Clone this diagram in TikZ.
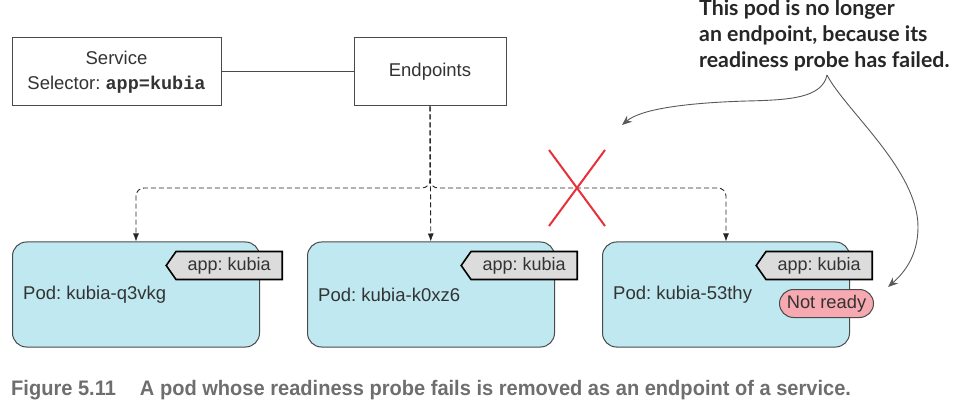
\documentclass[tikz,border=0pt]{standalone}
\usepackage{fontspec}
\setmainfont{Liberation Sans}
\setmonofont{Liberation Mono}
\newfontfamily\calloutfont{Lato}
\newfontfamily\captionfont[FakeStretch=0.955]{Liberation Sans}
\usetikzlibrary{arrows,arrows.meta,positioning,shapes,calc}
\definecolor{txt}{HTML}{333333}
\definecolor{boxline}{HTML}{4A4A4A}
\definecolor{podfill}{HTML}{BFE8F0}
\definecolor{tagfill}{HTML}{DCDCDC}
\definecolor{nrfill}{HTML}{F6A9B0}
\definecolor{crossred}{HTML}{E8303A}
\definecolor{capgray}{HTML}{6E6E6E}
\frenchspacing

\begin{document}
\begin{tikzpicture}[x=1pt,y=-1pt,
    every node/.style={text=txt},
    box/.style={draw=boxline,line width=1pt,fill=white,align=center,inner sep=0pt,
      font=\fontsize{18.5}{25}\selectfont},
    pod/.style={draw=boxline,line width=1pt,fill=podfill,rounded corners=14pt,
      minimum width=247pt,minimum height=105pt},
    podtext/.style={inner sep=0pt,anchor=west,font=\fontsize{18.5}{20}\selectfont},
    tag/.style={signal,signal to=west,signal pointer angle=110,draw=black,line width=1.6pt,
      fill=tagfill,inner xsep=5pt,inner ysep=0pt,minimum height=28pt,minimum width=116pt,
      anchor=east,font=\fontsize{18}{20}\selectfont},
    notready/.style={rounded rectangle,draw=boxline,line width=1pt,fill=nrfill,
      inner xsep=4pt,inner ysep=0pt,minimum height=28pt,minimum width=102pt,anchor=east,
      font=\fontsize{18.3}{20}\selectfont},
    feed/.style={draw=black!85,line width=0.9pt,dash pattern=on 5pt off 3pt,
      -{Latex[length=8pt,width=6pt]}},
    pointer/.style={draw=black!65,line width=0.9pt,-{Stealth[length=10pt,width=8pt]}},
    cross/.style={draw=crossred,line width=2pt},
    callout/.style={align=left,inner sep=0pt,text=black!85,
      font=\calloutfont\bfseries\fontsize{21.3}{26}\selectfont},
    caption/.style={inner sep=0pt,text=capgray,
      font=\captionfont\bfseries\fontsize{21}{22}\selectfont}]
  \useasboundingbox (0,0) rectangle (957,411);

  % service and endpoints
  \node[box,minimum width=209pt,minimum height=68pt] (svc) at (116.5,72)
    {Service\\Selector: \texttt{\bfseries app=kubia}};
  \node[box,minimum width=152pt,minimum height=68pt] (ep) at (430,72) {Endpoints};
  \draw[draw=boxline,line width=1pt] (svc) -- (ep);

  % pods
  \node[pod] (podA) at (136,294.5) {};
  \node[pod,right=47pt of podA] (podB) {};
  \node[pod,right=47pt of podB] (podC) {};
  \node[podtext] (nameA) at ($(podA.west)+(11,0)$) {Pod: kubia-q3vkg};
  \node[podtext] (nameB) at ($(podB.west)+(11,0)$) {Pod: kubia-k0xz6};
  \node[podtext] (nameC) at ($(podC.west)+(11,0)$) {Pod: kubia-53thy};
  \node[tag] (tagA) at ($(podA.north east)+(23,24)$) {app: kubia};
  \node[tag] (tagB) at ($(podB.north east)+(23,24)$) {app: kubia};
  \node[tag] (tagC) at ($(podC.north east)+(23,24)$) {app: kubia};
  \node[notready] (nr) at ($(podC.north east)+(24,62)$) {Not ready};

  % endpoint links
  \coordinate (bus) at (0,188);
  \draw[feed] (ep) -- (podB);
  \draw[feed,rounded corners=8pt] (ep.south) -- (ep.south |- bus) -- (podA.north |- bus) -- (podA.north);
  \draw[feed,rounded corners=8pt] (ep.south) -- (ep.south |- bus) -- (podC.north |- bus) -- (podC.north);

  \coordinate (cut) at (577,188);
  \draw[cross] ($(cut)+(-28,-38)$) -- ($(cut)+(28,38)$)
               ($(cut)+(28,-38)$) -- ($(cut)+(-28,38)$);

  % callout
  \node[callout,anchor=north west] (note) at (699,-1)
    {This pod is no longer\\an endpoint, because its\\readiness probe has failed.};
  \coordinate (fork) at (827,75);
  \coordinate (lost) at (622,125);
  \coordinate (ntip) at (888,287);
  \draw[pointer] (fork) .. controls (822,98) and (790,100) .. (747,101)
    .. controls (680,103) and (640,110) .. (lost);
  \draw[pointer] (fork) .. controls (845,110) and (918,170) .. (918,227)
    .. controls (918,255) and (905,272) .. (ntip);

  \node[caption,anchor=base west] (cap) at (11,395)
    {Figure 5.11\hspace{24pt}A pod whose readiness probe fails is removed as an endpoint of a service.};
\end{tikzpicture}
\end{document}
